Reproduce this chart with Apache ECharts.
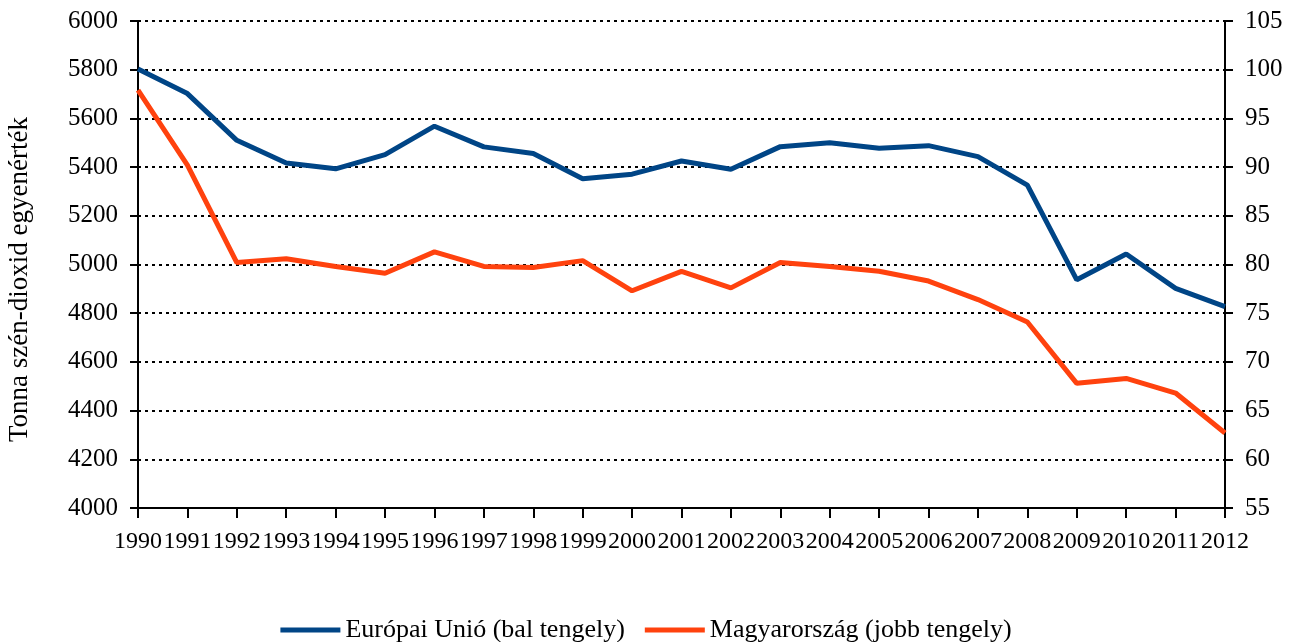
<!DOCTYPE html>
<html>
<head>
<meta charset="utf-8">
<script src="https://cdn.jsdelivr.net/npm/echarts@6/dist/echarts.min.js"></script>
<style>
  html, body { margin: 0; padding: 0; background: #fff; }
  #main { width: 1292px; height: 642px; }
</style>
</head>
<body>
<div id="main"></div>
<script>
// évek
const years = ['1990', '1991', '1992', '1993', '1994', '1995', '1996', '1997', '1998', '1999', '2000',
  '2001', '2002', '2003', '2004', '2005', '2006', '2007', '2008', '2009', '2010', '2011', '2012'];

// Európai Unió, bal tengely
const euValues = [5803, 5702, 5510, 5417, 5393, 5451, 5568, 5483, 5456, 5352, 5371,
  5425, 5391, 5484, 5500, 5477, 5488, 5443, 5326, 4937, 5043, 4902, 4827];

// Magyarország, jobb tengely
const huValues = [97.9, 90.2, 80.2, 80.6, 79.8, 79.1, 81.3, 79.8, 79.7, 80.4, 77.3,
  79.3, 77.6, 80.2, 79.8, 79.3, 78.3, 76.4, 74.1, 67.8, 68.3, 66.8, 62.7];

const leftTicks = { min: 4000, max: 6000, interval: 200 };
const rightTicks = { min: 55, max: 105, interval: 5 };

const font = 'Liberation Serif';
const chart = echarts.init(document.getElementById('main'));

chart.setOption({
  animation: false,
  textStyle: { fontFamily: font, color: '#000' },
  grid: { left: 138, right: 67, top: 21, bottom: 134, containLabel: false, outerBoundsMode: 'none' },
  legend: {
    top: 612,
    left: 'center',
    icon: 'rect',
    itemWidth: 60,
    itemHeight: 5,
    itemGap: 20,
    textStyle: { fontFamily: font, fontSize: 26, color: '#000' },
    data: ['Európai Unió (bal tengely)', 'Magyarország (jobb tengely)']
  },
  xAxis: {
    type: 'category',
    data: years,
    boundaryGap: false,
    axisLine: { lineStyle: { color: '#000', width: 2 } },
    axisTick: { show: true, length: 10, interval: 0, lineStyle: { color: '#000', width: 2 } },
    axisLabel: { interval: 0, margin: 22, fontSize: 24, fontFamily: font, color: '#000' },
    splitLine: { show: false }
  },
  yAxis: [
    {
      type: 'value',
      min: leftTicks.min,
      max: leftTicks.max,
      interval: leftTicks.interval,
      name: 'Tonna szén-dioxid egyenérték',
      nameLocation: 'middle',
      nameGap: 105,
      nameTextStyle: { fontFamily: font, fontSize: 27, color: '#000', padding: [0, 30, 0, 0] },
      axisLine: { show: true, lineStyle: { color: '#000', width: 2 } },
      axisTick: { show: true, length: 8, lineStyle: { color: '#000', width: 2 } },
      axisLabel: { margin: 20, fontSize: 25, fontFamily: font, color: '#000', formatter: v => String(v) },
      splitLine: { show: true, lineStyle: { color: '#000', width: 2, type: [3, 4] } }
    },
    {
      type: 'value',
      position: 'right',
      min: rightTicks.min,
      max: rightTicks.max,
      interval: rightTicks.interval,
      axisLine: { show: true, lineStyle: { color: '#000', width: 2 } },
      axisTick: { show: true, length: 8, lineStyle: { color: '#000', width: 2 } },
      axisLabel: { margin: 20, fontSize: 25, fontFamily: font, color: '#000', formatter: v => String(v) },
      splitLine: { show: false }
    }
  ],
  series: [
    {
      name: 'Európai Unió (bal tengely)',
      type: 'line',
      yAxisIndex: 0,
      data: euValues,
      showSymbol: false,
      symbol: 'none',
      itemStyle: { color: '#004586' },
      lineStyle: { color: '#004586', width: 5 }
    },
    {
      name: 'Magyarország (jobb tengely)',
      type: 'line',
      yAxisIndex: 1,
      data: huValues,
      showSymbol: false,
      symbol: 'none',
      itemStyle: { color: '#ff420e' },
      lineStyle: { color: '#ff420e', width: 5 }
    }
  ]
});
</script>
</body>
</html>
